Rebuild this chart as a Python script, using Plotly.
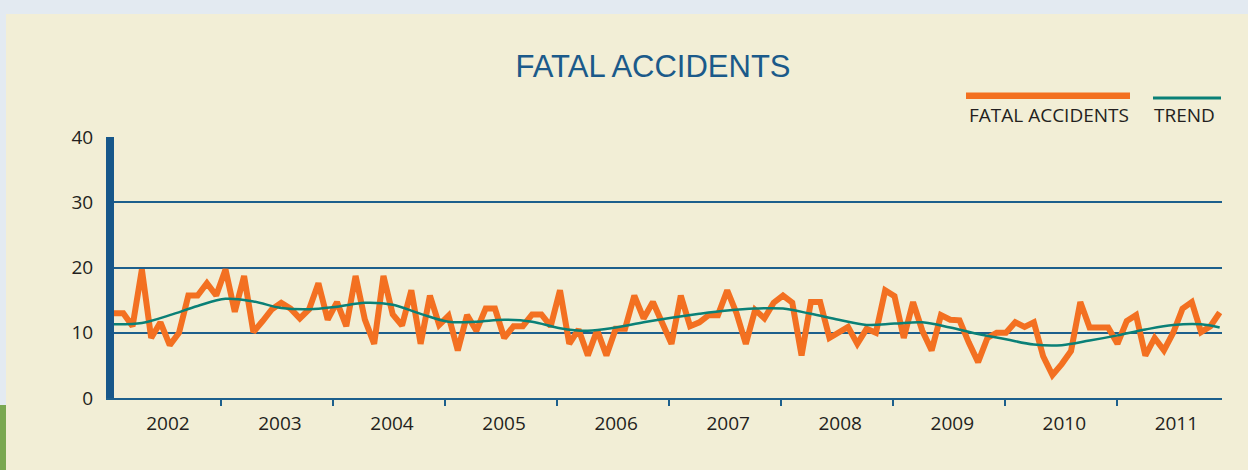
import plotly.graph_objects as go

# ---------------- data ----------------
years = ["2002", "2003", "2004", "2005", "2006", "2007", "2008", "2009", "2010", "2011"]

# monthly fatal accidents, Jan 2002 .. Dec 2011 (month index 0..119)
accidents_2002 = [13, 13, 11, 19.7, 9.2, 11.6, 8.1, 10, 15.7, 15.7, 17.6, 15.7]
accidents_2003 = [19.7, 13.2, 18.7, 10.1, 11.8, 13.6, 14.6, 13.7, 12.2, 13.6, 17.6, 12]
accidents_2004 = [14.7, 11, 18.7, 12, 8.3, 18.7, 12.8, 11.1, 16.5, 8.3, 15.7, 11.2]
accidents_2005 = [12.6, 7.3, 12.7, 10.3, 13.7, 13.7, 9.2, 11, 11, 12.8, 12.8, 11]
accidents_2006 = [16.5, 8.3, 10.5, 6.5, 10.4, 6.5, 10.6, 10.6, 15.7, 12.2, 14.7, 11.4]
accidents_2007 = [8.3, 15.7, 11, 11.6, 12.7, 12.7, 16.5, 13, 8.3, 13.5, 12.2, 14.6]
accidents_2008 = [15.7, 14.6, 6.5, 14.7, 14.7, 9.2, 10, 10.9, 8.3, 10.6, 10, 16.5]
accidents_2009 = [15.6, 9.2, 14.7, 10.3, 7.3, 12.7, 12, 11.9, 8.5, 5.5, 9.2, 10]
accidents_2010 = [10, 11.6, 10.9, 11.6, 6.4, 3.5, 5.2, 7.2, 14.7, 10.8, 10.8, 10.8]
accidents_2011 = [8.3, 11.8, 12.7, 6.5, 9.2, 7.3, 10, 13.7, 14.7, 10.1, 11, 13.1]

accidents = (accidents_2002 + accidents_2003 + accidents_2004 + accidents_2005 +
             accidents_2006 + accidents_2007 + accidents_2008 + accidents_2009 +
             accidents_2010 + accidents_2011)
months = list(range(len(accidents)))

# trend read at quarterly month indices
trend_months = list(range(0, 120, 3)) + [119]
trend = [11.3, 11.5, 12.7, 14.1, 15.2, 14.8, 13.8, 13.6, 14.0, 14.6,
         14.3, 12.9, 11.7, 11.7, 12.0, 11.7, 10.7, 10.3, 10.8, 11.6,
         12.3, 12.9, 13.4, 13.7, 13.7, 12.9, 12.0, 11.2, 11.4, 11.6,
         10.8, 9.8, 9.0, 8.2, 8.1, 8.8, 9.6, 10.5, 11.2, 11.3, 10.8]

y_ticks = [0, 10, 20, 30, 40]

# ---------------- styling ----------------
W, H = 1248, 470
L, R, T, B = 114, 1222, 137, 398          # plot-area edges in pixels

ORANGE = "#f37021"
TEAL = "#0a8077"
BLUE = "#1d5f8c"
BAR_BLUE = "#17578a"
TITLE_BLUE = "#1b5a8a"
TEXT = "#231f20"
CREAM = "#f2eed6"
OUTER = "#e3eaf1"
FONT = "Open Sans"


def px_x(px):
    return (px - L) / (R - L)


def px_y(py):
    return (B - py) / (B - T)


fig = go.Figure()
fig.add_trace(go.Scatter(
    x=months, y=accidents, mode="lines", name="FATAL ACCIDENTS",
    line=dict(color=ORANGE, width=6), showlegend=False,
))
fig.add_trace(go.Scatter(
    x=trend_months, y=trend, mode="lines", name="TREND",
    line=dict(color=TEAL, width=2.5, shape="spline", smoothing=1),
    showlegend=False,
))

label_pos = [5.8 + 12.06 * i for i in range(len(years))]

shapes = [
    # cream panel
    dict(type="rect", xref="paper", yref="paper", layer="below",
         x0=px_x(6), x1=px_x(1260), y0=px_y(480), y1=px_y(14),
         fillcolor=CREAM, line=dict(width=0)),
    # bit of green at lower left
    dict(type="rect", xref="paper", yref="paper", layer="below",
         x0=px_x(-5), x1=px_x(6), y0=px_y(480), y1=px_y(405),
         fillcolor="#7aa851", line=dict(width=0)),
    # legend swatches
    dict(type="line", xref="paper", yref="paper",
         x0=px_x(966), x1=px_x(1130), y0=px_y(95.7), y1=px_y(95.7),
         line=dict(color=ORANGE, width=6.5)),
    dict(type="line", xref="paper", yref="paper",
         x0=px_x(1153), x1=px_x(1221), y0=px_y(98), y1=px_y(98),
         line=dict(color=TEAL, width=3)),
]

annotations = [
    dict(text="FATAL ACCIDENTS", xref="paper", yref="paper",
         x=px_x(967), y=px_y(115), xanchor="left", yanchor="middle",
         showarrow=False, font=dict(family=FONT, size=19, color=TEXT)),
    dict(text="TREND", xref="paper", yref="paper",
         x=px_x(1152), y=px_y(115), xanchor="left", yanchor="middle",
         showarrow=False, font=dict(family=FONT, size=19, color=TEXT)),
]

fig.update_layout(
    width=W, height=H,
    margin=dict(l=L, r=W - R, t=T, b=H - B, pad=0),
    paper_bgcolor=OUTER,
    plot_bgcolor="rgba(0,0,0,0)",
    title=dict(text="FATAL ACCIDENTS", x=653 / W, xref="container", xanchor="center",
               y=1 - 66 / H, yref="container", yanchor="middle",
               font=dict(family="Liberation Sans", size=31, color=TITLE_BLUE)),
    shapes=shapes,
    annotations=annotations,
    xaxis=dict(
        range=[0, 119.25], showgrid=False, zeroline=False,
        showline=True, linecolor=BLUE, linewidth=2,
        tickmode="array", tickvals=label_pos, ticktext=years, ticks="",
        ticklabelstandoff=7,
        tickfont=dict(family=FONT, size=19, color=TEXT),
        minor=dict(tickmode="linear", tick0=11.5, dtick=12.06, ticks="outside",
                   ticklen=6, tickwidth=2, tickcolor=BLUE, showgrid=False),
    ),
    yaxis=dict(
        range=[0, 40], tickmode="array", tickvals=y_ticks,
        showgrid=True, gridcolor=BLUE, gridwidth=1.5, zeroline=False,
        showline=True, linecolor=BAR_BLUE, linewidth=8, ticks="",
        ticklabelstandoff=9,
        tickfont=dict(family=FONT, size=19, color=TEXT),
    ),
)

fig.write_html(
    "out.html",
    config={"displayModeBar": False},
    post_script="document.body.style.margin='0';document.body.style.background='" + OUTER + "';",
)
